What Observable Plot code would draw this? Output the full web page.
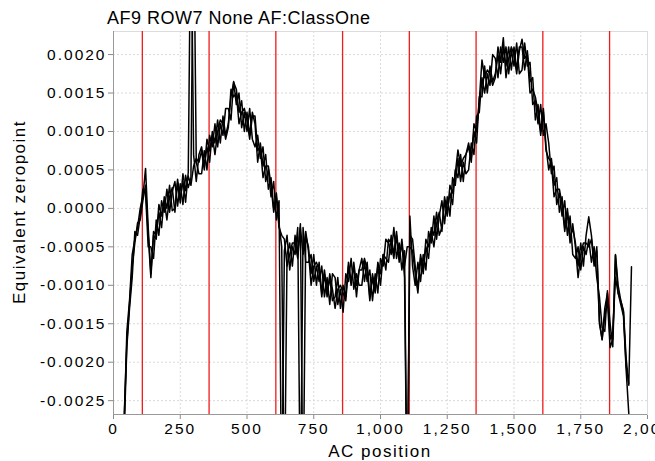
<!DOCTYPE html>
<html><head><meta charset="utf-8">
<script src="https://cdn.jsdelivr.net/npm/d3@7"></script>
<script src="https://cdn.jsdelivr.net/npm/@observablehq/plot@0.6"></script>
<style>
body{margin:0;background:#fff;}
#chart{position:relative;width:655px;height:461px;overflow:hidden;}
svg text{letter-spacing:2px;}
g[aria-label="x-axis tick"], g[aria-label="y-axis tick"]{stroke:#888;}
g[aria-label="x-axis"] line, g[aria-label="y-axis"] line{stroke:#888;}
</style></head><body><div id="chart"></div>
<script>
const title = "AF9 ROW7 None AF:ClassOne";
const xLabel = "AC position";
const yLabel = "Equivalent zeropoint";
const xTicks = [0, 250, 500, 750, 1000, 1250, 1500, 1750, 2000];
const yTicks = [-0.0025, -0.002, -0.0015, -0.001, -0.0005, 0, 0.0005, 0.001, 0.0015, 0.002];
const redLines = [108, 358, 608, 858, 1108, 1358, 1608, 1858];

const positions = [
  30,40,50,60,70,80,90,100,110,120,
  130,140,150,160,170,180,190,200,210,220,
  230,240,250,260,270,280,290,300,310,320,
  330,340,350,360,370,380,390,400,410,420,
  430,440,450,460,470,480,490,500,510,520,
  530,540,550,560,570,580,590,600,610,620,
  630,640,650,660,670,680,690,700,710,720,
  730,740,750,760,770,780,790,800,810,820,
  830,840,850,860,870,880,890,900,910,920,
  930,940,950,960,970,980,990,1000,1010,1020,
  1030,1040,1050,1060,1070,1080,1090,1100,1110,1120,
  1130,1140,1150,1160,1170,1180,1190,1200,1210,1220,
  1230,1240,1250,1260,1270,1280,1290,1300,1310,1320,
  1330,1340,1350,1360,1370,1380,1390,1400,1410,1420,
  1430,1440,1450,1460,1470,1480,1490,1500,1510,1520,
  1530,1540,1550,1560,1570,1580,1590,1600,1610,1620,
  1630,1640,1650,1660,1670,1680,1690,1700,1710,1720,
  1730,1740,1750,1760,1770,1780,1790,1800,1810,1820,
  1830,1840,1850,1860,1870,1880,1890,1900,1910,1920,
  1930,1940
];

const seriesA = [
  -0.0032,-0.0028,-0.0016,-0.0012,-0.0006,-0.0004,-0.00025,0,0.00015,0.00052,
  -0.00025,-0.00085,-0.0003,-0.00035,-0.00005,-0.00025,0.00015,0,0.0003,-0.00003,
  0,0.00038,0.00012,0.00035,0.00008,0.00047,0.004,0.0007,0.00035,0.0007,
  0.0008,0.00055,0.0008,0.0006,0.001,0.00085,0.00115,0.00085,0.0012,0.00095,
  0.0011,0.00145,0.00164,0.00155,0.00125,0.0014,0.001,0.00125,0.00095,0.00125,
  0.0011,0.0006,0.00085,0.00055,0.0007,0.00025,0.0004,0,0.0002,-0.0002,
  -0.0005,-0.004,-0.0006,-0.00045,-0.00075,-0.00035,-0.0006,-0.0002,-0.004,-0.00035,
  -0.0005,-0.00085,-0.0006,-0.001,-0.0007,-0.0011,-0.0008,-0.0011,-0.0009,-0.0012,
  -0.00115,-0.0009,-0.0013,-0.001,-0.00115,-0.0007,-0.00095,-0.00075,-0.00115,-0.0008,
  -0.00065,-0.00095,-0.0007,-0.00115,-0.00085,-0.00105,-0.00075,-0.001,-0.0006,-0.00065,
  -0.0007,-0.00035,-0.0006,-0.0003,-0.00065,-0.00045,-0.0009,-0.004,-0.00035,-0.0004,
  -0.00075,-0.00105,-0.0006,-0.0008,-0.0005,-0.00065,-0.00025,-0.00035,-0.00005,-0.00035,
  -0.00025,0.00015,-0.00005,0.0002,0.00005,0.0005,0.0004,0.0007,0.00035,0.0007,
  0.00085,0.00065,0.001,0.00085,0.00145,0.00145,0.00185,0.0015,0.00185,0.00165,
  0.00175,0.002,0.00175,0.0021,0.00185,0.0021,0.0018,0.0021,0.0018,0.0021,
  0.0021,0.0018,0.00205,0.00165,0.0017,0.00115,0.00135,0.001,0.0013,0.0008,
  0.0005,0.00065,0.0003,0.0004,-0.00005,0.00015,-0.00025,0,-0.0004,-0.00025,
  -0.00045,-0.00075,-0.00045,-0.00075,-0.00035,-0.00011,-0.00035,-0.0007,-0.00055,-0.0015,
  -0.0017,-0.0013,-0.0011,-0.0015,-0.0018,-0.0006,-0.001,-0.0012,-0.00135,-0.00205,
  -0.00228,-0.00076
];

const seriesB = [
  -0.003,-0.0029,-0.0018,-0.0013,-0.0009,-0.0003,-0.00035,-0.0001,0.00025,0.0002,
  -0.0005,-0.0005,-0.00065,-0.00015,-0.00035,0.0001,-0.00005,0.00025,-0.00005,0.00022,
  0.00035,0.00003,0.00032,0.00005,0.00043,0.00027,0.0004,0.004,0.0006,0.00045,
  0.00045,0.00075,0.0005,0.00095,0.0008,0.0011,0.0008,0.0011,0.00095,0.0013,
  0.0013,0.00115,0.00165,0.00135,0.0015,0.00105,0.00125,0.001,0.0013,0.0009,
  0.0008,0.00095,0.00065,0.0008,0.00035,0.0005,0.00015,0.00035,-0.00015,0.0001,
  -0.004,-0.00055,-0.00035,-0.0008,-0.0005,-0.0006,-0.00025,-0.004,-0.00025,-0.0007,
  -0.0007,-0.0006,-0.00095,-0.00075,-0.00095,-0.00075,-0.00115,-0.0009,-0.00125,-0.00085,
  -0.0009,-0.00125,-0.00105,-0.00135,-0.00085,-0.00095,-0.00065,-0.00105,-0.00085,-0.001,
  -0.001,-0.0007,-0.00095,-0.0008,-0.0012,-0.00085,-0.0011,-0.00065,-0.00075,-0.0004,
  -0.00045,-0.0006,-0.00025,-0.00065,-0.00045,-0.0008,-0.00055,-0.004,-0.0001,-0.00075,
  -0.001,-0.0007,-0.00095,-0.0006,-0.0008,-0.0003,-0.00045,-0.0001,-0.0004,-0.0001,
  0.0001,-0.0002,0.00015,-0.0001,0.0004,0.0003,0.00065,0.00035,0.0006,0.00045,
  0.0005,0.00085,0.0007,0.0012,0.00125,0.0017,0.0015,0.00175,0.0016,0.002,
  0.00195,0.0017,0.0021,0.0019,0.0021,0.00175,0.00205,0.00185,0.00215,0.00175,
  0.0018,0.00215,0.00185,0.0019,0.00135,0.0014,0.0011,0.00135,0.00095,0.0011,
  0.00085,0.00045,0.00055,0.00005,0.0002,-0.0001,0.0001,-0.00035,-0.0001,-0.0006,
  -0.00065,-0.0005,-0.0008,-0.0005,-0.0006,-0.0004,-0.0007,-0.0005,-0.0009,-0.00115,
  -0.00155,-0.0016,-0.00107,-0.0017,-0.0016,-0.0009,-0.0011,-0.00125,-0.0014,-0.0021,
  -0.00267,-0.0032
];

const seriesC = [
  -0.0031,-0.0027,-0.00175,-0.00124,-0.00075,-0.00045,-0.00019,-0.00015,0.0001,0.0003,
  -0.00035,-0.0009,-0.00035,-0.0004,0.00005,-0.0001,0.0001,-0.00015,0.00015,0.00027,
  -0.00005,0.00033,0.00007,0.00045,0.00023,0.00042,0.0003,0.00055,0.00065,0.0006,
  0.00075,0.0005,0.0009,0.00075,0.00095,0.0007,0.001,0.00115,0.0011,0.0009,
  0.00105,0.00155,0.00145,0.0015,0.0011,0.00125,0.0013,0.00115,0.0009,0.0012,
  0.0012,0.00075,0.0008,0.0004,0.00055,0.00055,0.0003,-0.00005,0.00015,-0.00025,
  -0.00035,-0.0004,-0.00075,-0.0006,-0.00045,-0.00045,-0.00065,-0.00025,-0.0006,-0.0003,
  -0.00055,-0.001,-0.00075,-0.0007,-0.0008,-0.00115,-0.00085,-0.00115,-0.00085,-0.00105,
  -0.0013,-0.00105,-0.001,-0.0011,-0.0012,-0.00075,-0.001,-0.0007,-0.001,-0.0008,
  -0.0008,-0.00065,-0.0008,-0.0012,-0.0009,-0.0011,-0.0007,-0.00085,-0.0006,-0.0008,
  -0.0004,-0.00045,-0.00065,-0.00035,-0.0007,-0.0004,-0.00075,-0.0005,-0.0005,-0.00055,
  -0.00085,-0.0011,-0.00065,-0.00085,-0.0004,-0.0005,-0.0003,-0.0005,-0.0002,-0.00005,
  -0.0003,0.0001,-0.0001,0.0003,0.0002,0.00045,0.00076,0.00055,0.00065,0.0007,
  0.0008,0.0006,0.0011,0.001,0.0014,0.00193,0.0017,0.0018,0.00175,0.0016,
  0.0017,0.0021,0.0019,0.00222,0.0017,0.00195,0.0021,0.002,0.00175,0.00205,
  0.0022,0.00195,0.002,0.0015,0.00155,0.00145,0.00125,0.00095,0.00125,0.00075,
  0.00065,0.0006,0.00015,0.00025,0.00025,0.00005,-0.0003,-0.00005,-0.00045,-0.0002,
  -0.0005,-0.0009,-0.0006,-0.00045,-0.00045,-0.0005,-0.0004,-0.00075,-0.0005,-0.00146,
  -0.00171,-0.0014,-0.0012,-0.00181,-0.0017,-0.00061,-0.0011,-0.0012,-0.00133,-0.00195,
  -0.0023,null
];

const rows = [];
positions.forEach((x, i) => {
  rows.push({series: "A", x, y: seriesA[i]});
  rows.push({series: "B", x, y: seriesB[i]});
  rows.push({series: "C", x, y: seriesC[i]});
});

const yMin = -0.00268, yMax = 0.0023;

const chart = Plot.plot({
  width: 655,
  height: 461,
  marginLeft: 113,
  marginRight: 8,
  marginTop: 31,
  marginBottom: 47,
  style: {fontFamily: "'Liberation Sans', Arial, sans-serif", fontSize: "15.5px", color: "#000", background: "#fff"},
  x: {domain: [0, 2000], ticks: xTicks, tickFormat: d3.format(","), tickSize: 5, tickPadding: 3, label: null},
  y: {domain: [yMin, yMax], ticks: yTicks, tickFormat: d => d.toFixed(4), tickSize: 5, tickPadding: 2, label: null},
  marks: [
    Plot.ruleX(xTicks, {stroke: "#dadada", strokeDasharray: "2,2", strokeWidth: 1}),
    Plot.ruleY(yTicks, {stroke: "#dadada", strokeDasharray: "2,2", strokeWidth: 1}),
    Plot.frame({stroke: "#dcdcdc"}),
    Plot.ruleX(redLines, {stroke: "#ee1c1c", strokeWidth: 1.3}),
    Plot.line(rows, {x: "x", y: "y", z: "series", stroke: "#000", strokeWidth: 1.5, clip: true}),
    Plot.ruleX([0], {stroke: "#999"}),
    Plot.ruleY([yMin], {stroke: "#999"})
  ]
});
document.getElementById("chart").appendChild(chart);

const svg = d3.select(chart);
const font = "'Liberation Sans', Arial, sans-serif";
svg.append("text").text(title)
  .attr("x", 107).attr("y", 24).attr("text-anchor", "start")
  .attr("font-family", font).attr("font-size", 18)
  .style("letter-spacing", "0.5px").attr("fill", "#000");
svg.append("text").text(xLabel)
  .attr("x", 380).attr("y", 457).attr("text-anchor", "middle")
  .attr("font-family", font).attr("font-size", 17)
  .style("letter-spacing", "1.5px").attr("fill", "#000");
svg.append("text").text(yLabel)
  .attr("transform", "translate(25,212) rotate(-90)").attr("text-anchor", "middle")
  .attr("font-family", font).attr("font-size", 17)
  .style("letter-spacing", "1.5px").attr("fill", "#000");
</script></body></html>
